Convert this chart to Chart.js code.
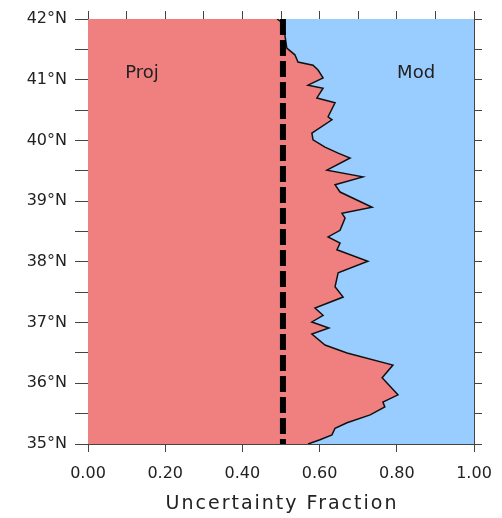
<!DOCTYPE html>
<html>
<head>
<meta charset="utf-8">
<script src="https://cdn.jsdelivr.net/npm/chart.js@4"></script>
<style>
  html, body { margin: 0; padding: 0; background: #fff; }
  #wrap { width: 502px; height: 518px; }
</style>
</head>
<body>
<div id="wrap"><canvas id="chart" width="502" height="518"></canvas></div>
<script>
// latitude (deg N) of each vertex of the boundary line, top to bottom
const lats = [42.00, 41.93, 41.74, 41.52, 41.41, 41.29, 41.24, 41.16, 41.03, 40.91,
    40.86, 40.70, 40.62, 40.39, 40.34, 40.12, 40.01, 39.89, 39.79, 39.71,
    39.51, 39.40, 39.27, 39.15, 38.90, 38.80, 38.72, 38.52, 38.41, 38.31,
    38.20, 38.01, 37.82, 37.59, 37.42, 37.24, 37.12, 37.01, 36.91, 36.81,
    36.63, 36.50, 36.30, 36.09, 35.81, 35.69, 35.61, 35.48, 35.35, 35.26,
    35.15, 35.07, 35.00];
// projection share of the uncertainty at each latitude
const projFraction = [0.490, 0.505, 0.510, 0.515, 0.536, 0.544, 0.583, 0.596, 0.609, 0.570,
    0.609, 0.593, 0.640, 0.622, 0.632, 0.580, 0.583, 0.614, 0.648, 0.679,
    0.619, 0.712, 0.640, 0.653, 0.736, 0.658, 0.666, 0.653, 0.622, 0.653,
    0.645, 0.725, 0.648, 0.640, 0.661, 0.588, 0.609, 0.580, 0.624, 0.580,
    0.614, 0.671, 0.790, 0.762, 0.803, 0.764, 0.769, 0.731, 0.671, 0.640,
    0.632, 0.601, 0.570];
const meanFraction = 0.505;
const xTicks = [0, 0.2, 0.4, 0.6, 0.8, 1.0];
const yTicks = [35, 36, 37, 38, 39, 40, 41, 42];

const points = lats.map((lat, i) => ({ x: projFraction[i], y: lat }));
const meanLine = [{ x: meanFraction, y: 42 }, { x: meanFraction, y: 35 }];

const axisColor = "#444";
const fontFamily = "'DejaVu Sans', sans-serif";

// area labels and the spaced-out x axis title
const labelsPlugin = {
    id: "areaLabels",
    afterDraw(chart) {
        const { ctx, scales, chartArea } = chart;
        ctx.save();
        ctx.font = "18px " + fontFamily;
        ctx.fillStyle = "#222";
        ctx.textAlign = "center";
        ctx.textBaseline = "middle";
        ctx.fillText("Proj", scales.x.getPixelForValue(0.14), scales.y.getPixelForValue(41.1));
        ctx.fillText("Mod", scales.x.getPixelForValue(0.85), scales.y.getPixelForValue(41.1));

        ctx.font = "19px " + fontFamily;
        ctx.letterSpacing = "2px";
        ctx.fillText("Uncertainty Fraction", (chartArea.left + chartArea.right) / 2 + 1, 504);
        ctx.restore();
    }
};

function fixSize(prop, size) {
    return function (scale) {
        scale[prop] = size;
        scale.paddingLeft = 0;
        scale.paddingRight = 0;
        scale.paddingTop = 0;
        scale.paddingBottom = 0;
    };
}

new Chart(document.getElementById("chart").getContext("2d"), {
    type: "line",
    data: {
        datasets: [
            {
                data: meanLine,
                borderColor: "#000",
                borderWidth: 6,
                borderDash: [16, 5],
                pointRadius: 0,
                fill: false
            },
            {
                data: points,
                borderColor: "#111",
                borderWidth: 1.5,
                backgroundColor: "#F08080",
                pointRadius: 0,
                tension: 0,
                fill: { value: 0 }
            },
            {
                data: points,
                borderWidth: 0,
                backgroundColor: "#99CCFF",
                pointRadius: 0,
                tension: 0,
                fill: { value: 1 }
            }
        ]
    },
    options: {
        indexAxis: "y",
        responsive: false,
        animation: false,
        layout: { padding: 0 },
        plugins: {
            legend: { display: false },
            tooltip: { enabled: false }
        },
        scales: {
            x: {
                type: "linear",
                position: "bottom",
                min: 0,
                max: 1,
                afterFit: fixSize("height", 74),
                ticks: {
                    stepSize: 0.1,
                    padding: 12,
                    color: "#222",
                    font: { family: fontFamily, size: 16 },
                    maxRotation: 0,
                    callback: v => xTicks.some(t => Math.abs(t - v) < 1e-6) ? v.toFixed(2) : ""
                },
                grid: { drawOnChartArea: false, tickLength: 8, color: axisColor, tickColor: axisColor },
                border: { color: axisColor, width: 1 }
            },
            xTop: {
                type: "linear",
                position: "top",
                min: 0,
                max: 1,
                afterFit: fixSize("height", 19),
                ticks: { stepSize: 0.1, display: false },
                grid: { drawOnChartArea: false, tickLength: 8, color: axisColor, tickColor: axisColor },
                border: { color: axisColor, width: 1 }
            },
            y: {
                type: "linear",
                position: "left",
                min: 35,
                max: 42,
                afterFit: fixSize("width", 88),
                ticks: {
                    stepSize: 0.5,
                    padding: 8,
                    color: "#222",
                    font: { family: fontFamily, size: 16 },
                    callback: v => yTicks.includes(v) ? v + "°N" : ""
                },
                grid: { drawOnChartArea: false, tickLength: 13, color: axisColor, tickColor: axisColor },
                border: { color: axisColor, width: 1 }
            },
            yRight: {
                type: "linear",
                position: "right",
                min: 35,
                max: 42,
                afterFit: fixSize("width", 28),
                ticks: { stepSize: 0.5, display: false },
                grid: { drawOnChartArea: false, tickLength: 8, color: axisColor, tickColor: axisColor },
                border: { color: axisColor, width: 1 }
            }
        }
    },
    plugins: [labelsPlugin]
});
</script>
</body>
</html>
